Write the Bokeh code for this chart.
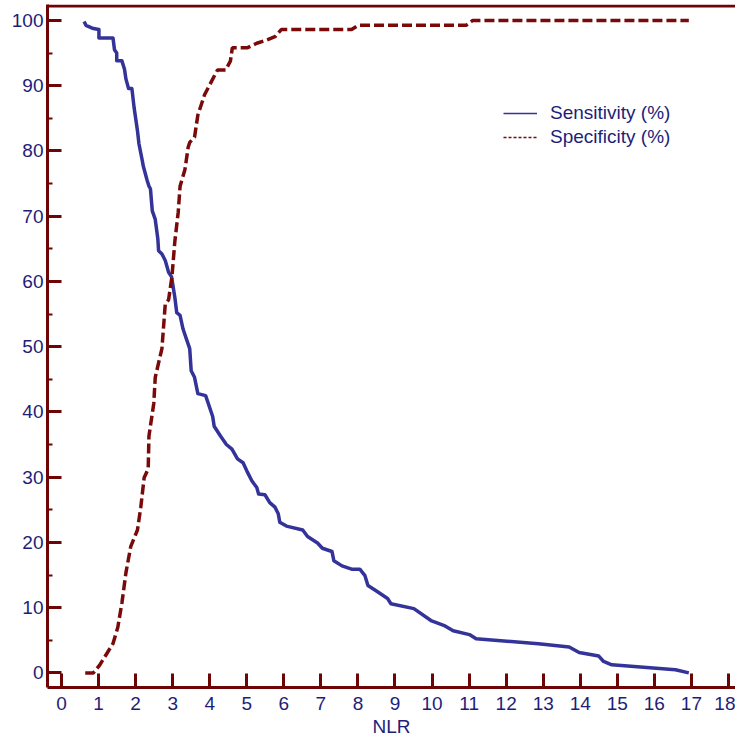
from bokeh.plotting import figure
from bokeh.models import Range1d, FixedTicker, Span, Legend, LegendItem, ColumnDataSource
from bokeh.embed import file_html
from bokeh.resources import INLINE

# ---- data ----
nlr_sens = [0.61, 0.66, 0.86, 1.01, 1.01, 1.39, 1.43, 1.49, 1.49, 1.63, 1.70, 1.74, 1.81, 1.90,
            1.96, 2.05, 2.09, 2.18, 2.21, 2.31, 2.36, 2.40, 2.45, 2.53, 2.60, 2.62, 2.71, 2.80,
            2.89, 2.97, 3.06, 3.11, 3.20, 3.28, 3.37, 3.46, 3.50, 3.59, 3.68, 3.89, 4.08, 4.12,
            4.29, 4.45, 4.60, 4.75, 4.90, 5.01, 5.14, 5.27, 5.32, 5.49, 5.62, 5.76, 5.85, 5.89,
            6.07, 6.51, 6.64, 6.91, 7.04, 7.30, 7.35, 7.57, 7.83, 8.05, 8.19, 8.27, 8.54, 8.80,
            8.89, 9.51, 9.99, 10.35, 10.57, 11.01, 11.19, 12.87, 13.70, 13.97, 14.50, 14.63,
            14.85, 16.57, 16.93]
sensitivity = [99.85, 99.25, 98.75, 98.6, 97.3, 97.3, 95.5, 95.0, 93.8, 93.8, 92.5, 91.0, 89.55, 89.55,
               86.6, 83.1, 81.1, 78.5, 77.6, 75.5, 74.6, 74.2, 70.8, 69.5, 66.5, 64.7, 64.2, 63.2,
               61.4, 60.7, 57.5, 55.2, 54.8, 52.7, 51.2, 49.7, 46.3, 45.3, 42.8, 42.5, 39.3, 37.8,
               36.3, 35.0, 34.3, 32.8, 32.2, 30.85, 29.4, 28.4, 27.4, 27.3, 26.1, 25.4, 24.4, 23.1,
               22.5, 21.9, 20.9, 19.9, 19.1, 18.6, 17.2, 16.4, 15.9, 15.9, 14.9, 13.4, 12.4, 11.4,
               10.6, 9.85, 7.96, 7.2, 6.46, 5.87, 5.22, 4.48, 3.98, 3.13, 2.58, 1.75,
               1.24, 0.49, 0.0]

nlr_spec = [0.64, 0.86, 1.03, 1.39, 1.52, 1.63, 1.74, 1.87, 2.05, 2.14, 2.23, 2.34, 2.36, 2.49,
            2.53, 2.62, 2.71, 2.80, 2.89, 2.98, 3.06, 3.15, 3.20, 3.33, 3.42, 3.46, 3.59, 3.68,
            3.86, 4.08, 4.21, 4.43, 4.56, 4.61, 5.01, 5.27, 5.54, 5.76, 5.93, 7.83, 8.01, 10.92,
            11.10, 16.93]
specificity = [0, 0, 1.2, 4.5, 7.0, 10.7, 15.4, 19.4, 21.9, 25.4, 29.9, 31.3, 36.3, 41.3,
               45.3, 47.5, 49.7, 56.5, 57.2, 60.7, 66.2, 70.6, 74.6, 77.1, 80.6, 81.3, 82.1, 85.5,
               88.6, 91.0, 92.4, 92.4, 93.8, 95.8, 95.8, 96.5, 97.0, 97.5, 98.6, 98.6, 99.25, 99.25,
               100, 100]

x_ticks = list(range(0, 19))
y_ticks = list(range(0, 101, 10))
y_minor = list(range(5, 100, 10))
series_names = ["Sensitivity (%)", "Specificity (%)"]
x_label = "NLR"

AXIS = "#6E0505"
BLUE = "#333399"
RED = "#7A0A0A"
TEXT = "#1E1E78"
FONT = "Liberation Sans"
FS = "19px"

Y_START, Y_END = -2.24, 102.44
p = figure(width=735, height=739, output_backend="svg", toolbar_location=None,
           x_range=Range1d(-0.378, 18.19), y_range=Range1d(Y_START, Y_END),
           min_border_left=47, min_border_right=0, min_border_top=4, min_border_bottom=49)
p.outline_line_color = None
p.grid.visible = False
p.background_fill_color = "white"
p.border_fill_color = "white"

for ax in (p.xaxis[0], p.yaxis[0]):
    ax.axis_line_color = AXIS
    ax.axis_line_width = 3
    ax.major_tick_line_color = AXIS
    ax.major_tick_line_width = 3
    ax.major_tick_in = 14
    ax.major_tick_out = 0
    ax.minor_tick_line_color = AXIS
    ax.minor_tick_line_width = 2
    ax.minor_tick_in = 5
    ax.minor_tick_out = 0
    ax.major_label_text_color = TEXT
    ax.major_label_text_font = FONT
    ax.major_label_text_font_size = FS

p.xaxis.ticker = FixedTicker(ticks=x_ticks, minor_ticks=[])
p.yaxis.ticker = FixedTicker(ticks=y_ticks, minor_ticks=y_minor)
p.xaxis.major_label_standoff = 9
p.yaxis.major_label_standoff = 4
p.xaxis.axis_label = x_label
p.xaxis.axis_label_text_font = FONT
p.xaxis.axis_label_text_font_size = FS
p.xaxis.axis_label_text_font_style = "normal"
p.xaxis.axis_label_text_color = TEXT
p.xaxis.axis_label_standoff = 3

# top border line
p.add_layout(Span(location=Y_END - 0.23, dimension="width", line_color=AXIS, line_width=3))

p.line(nlr_sens, sensitivity, line_color=BLUE, line_width=3.5, line_join="round")
p.line(nlr_spec, specificity, line_color=RED, line_width=3.5, line_dash="10 4")

# thin legend samples (renderers without visible data)
nan = float("nan")
leg_src = ColumnDataSource(data=dict(x=[nan, nan], y=[nan, nan]))
r1 = p.line("x", "y", source=leg_src, line_color=BLUE, line_width=1.5)
r2 = p.line("x", "y", source=leg_src, line_color=RED, line_width=1.5, line_dash="3 2")
legend = Legend(items=[LegendItem(label=series_names[0], renderers=[r1]),
                       LegendItem(label=series_names[1], renderers=[r2])],
                location=(456, 539), padding=0, margin=0, spacing=2,
                glyph_width=34, glyph_height=20, label_height=20, label_standoff=13,
                border_line_color=None, background_fill_alpha=0,
                label_text_font=FONT, label_text_font_size=FS, label_text_color=TEXT)
p.add_layout(legend)

open("out.html", "w").write(file_html(p, INLINE))
